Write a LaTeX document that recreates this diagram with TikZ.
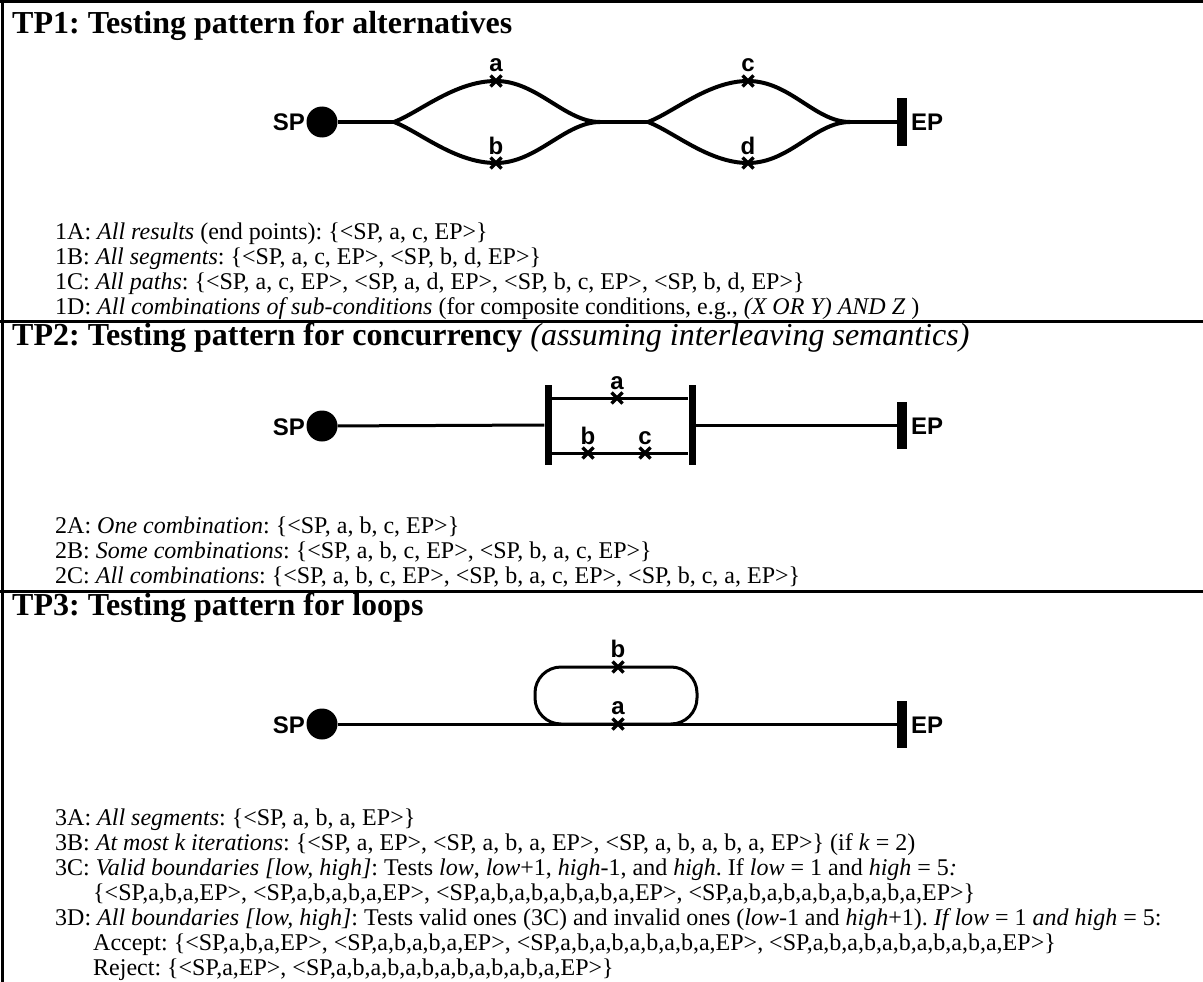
\documentclass[tikz,border=0pt]{standalone}
\usepackage{fontspec}
\setmainfont{Liberation Serif}
\newfontfamily\lblfont{Liberation Sans}
\frenchspacing
\newcommand\drawcross[1]{\draw[crossmk] ([shift={(-5.5,-5.5)}]#1) -- ([shift={(5.5,5.5)}]#1) ([shift={(-5.5,5.5)}]#1) -- ([shift={(5.5,-5.5)}]#1);}
\begin{document}
\begin{tikzpicture}[x=1pt,y=-1pt,
  txt/.style={anchor=base west, inner sep=0pt, font=\frenchspacing\fontsize{24}{26}\selectfont},
  ttl/.style={anchor=base west, inner sep=0pt, font=\frenchspacing\fontsize{32}{34}\selectfont\bfseries},
  lbl/.style={inner sep=0pt, font=\lblfont\bfseries\fontsize{24}{26}\selectfont},
  spdot/.style={circle, fill=black, minimum size=31pt, inner sep=0pt},
  epbar/.style={rectangle, fill=black, minimum width=10pt, minimum height=47pt, inner sep=0pt},
  cbar/.style={rectangle, fill=black, minimum width=7pt, minimum height=80pt, inner sep=0pt},
  frame/.style={line width=3pt},
  wire/.style={line width=3pt},
  bwire/.style={line width=4pt},
  crossmk/.style={line width=3.5pt}
]
\useasboundingbox (0,0) rectangle (1203,982);
% frame
\draw[frame] (2,0) -- (2,982);
\draw[frame] (0,1.5) -- (1203,1.5);
\draw[frame] (0,321) -- (1203,321);
\draw[frame] (0,591) -- (1203,591);

% ---------------- TP1
\node[ttl] (t1) at (12,34) {TP1: Testing pattern for alternatives};
\node[spdot] (sp1) at (322,122) {};
\node[lbl, anchor=base east] (sp1l) at (305,131) {SP};
\node[epbar] (ep1) at (902,122) {};
\node[lbl, anchor=base west] (ep1l) at (911,131) {EP};
\coordinate (j1) at (394,122);
\coordinate (a1) at (496,81);
\coordinate (b1) at (496,163);
\coordinate (j2) at (600,122);
\coordinate (j3) at (648,122);
\coordinate (c1) at (748,81);
\coordinate (d1) at (748,163);
\coordinate (j4) at (850,122);
\draw[bwire] (sp1) -- (j1);
\draw[bwire] (j1) .. controls (420,112) and (455,81) .. (a1) .. controls (537,81) and (565,122) .. (j2);
\draw[bwire] (j1) .. controls (420,132) and (455,163) .. (b1) .. controls (537,163) and (565,122) .. (j2);
\draw[bwire] (j2) -- (j3);
\draw[bwire] (j3) .. controls (674,112) and (709,81) .. (c1) .. controls (790,81) and (815,122) .. (j4);
\draw[bwire] (j3) .. controls (674,132) and (709,163) .. (d1) .. controls (790,163) and (815,122) .. (j4);
\draw[bwire] (j4) -- (ep1);
\drawcross{a1}\drawcross{b1}\drawcross{c1}\drawcross{d1}
\node[lbl, anchor=base] (la1) at (496,72) {a};
\node[lbl, anchor=base] (lb1) at (496,154) {b};
\node[lbl, anchor=base] (lc1) at (748,72) {c};
\node[lbl, anchor=base] (ld1) at (748,154) {d};

\node[txt] (l1a) at (55,239) {1A: \textit{All results} (end points): \{<SP, a, c, EP>\}};
\node[txt] (l1b) at (55,264) {1B: \textit{All segments}: \{<SP, a, c, EP>, <SP, b, d, EP>\}};
\node[txt] (l1c) at (55,289) {1C: \textit{All paths}: \{<SP, a, c, EP>, <SP, a, d, EP>, <SP, b, c, EP>, <SP, b, d, EP>\}};
\node[txt] (l1d) at (55,314) {1D: \textit{All combinations of sub-conditions} (for composite conditions, e.g., \textit{(X OR Y) AND Z\/} )};

% ---------------- TP2
\node[ttl] (t2) at (12,345) {TP2: Testing pattern for concurrency \mdseries\itshape(assuming interleaving semantics)};
\node[spdot] (sp2) at (322,426) {};
\node[lbl, anchor=base east] (sp2l) at (305,435) {SP};
\node[cbar] (lbar) at (548,425) {};
\node[cbar] (rbar) at (692,425) {};
\node[epbar] (ep2) at (902,425) {};
\node[lbl, anchor=base west] (ep2l) at (911,434) {EP};
\coordinate (a2) at (617,398);
\coordinate (b2) at (588,453);
\coordinate (c2) at (645,453);
\draw[wire] (sp2) -- (lbar);
\draw[wire] (rbar) -- (ep2);
\draw[wire] (lbar.east |- a2) -- (rbar.west |- a2);
\draw[wire] (lbar.east |- b2) -- (rbar.west |- b2);
\drawcross{a2}\drawcross{b2}\drawcross{c2}
\node[lbl, anchor=base] (la2) at (617,389) {a};
\node[lbl, anchor=base] (lb2) at (588,444) {b};
\node[lbl, anchor=base] (lc2) at (645,444) {c};

\node[txt] (l2a) at (55,533) {2A: \textit{One combination}: \{<SP, a, b, c, EP>\}};
\node[txt] (l2b) at (55,558) {2B: \textit{Some combinations}: \{<SP, a, b, c, EP>, <SP, b, a, c, EP>\}};
\node[txt] (l2c) at (55,583) {2C: \textit{All combinations}: \{<SP, a, b, c, EP>, <SP, b, a, c, EP>, <SP, b, c, a, EP>\}};

% ---------------- TP3
\node[ttl] (t3) at (12,615) {TP3: Testing pattern for loops};
\node[spdot] (sp3) at (322,724) {};
\node[lbl, anchor=base east] (sp3l) at (305,733) {SP};
\node[epbar] (ep3) at (902,724) {};
\node[lbl, anchor=base west] (ep3l) at (911,733) {EP};
\node[draw, wire, rounded corners=26pt, minimum width=162pt, minimum height=57pt, inner sep=0pt] (loop) at (616,695.5) {};
\draw[wire] (sp3) -- (ep3);
\coordinate (a3) at (618,724);
\coordinate (b3) at (618,667);
\drawcross{a3}\drawcross{b3}
\node[lbl, anchor=base] (la3) at (618,714) {a};
\node[lbl, anchor=base] (lb3) at (618,657) {b};

\node[txt] (l3a) at (55,825) {3A: \textit{All segments}: \{<SP, a, b, a, EP>\}};
\node[txt] (l3b) at (55,850) {3B: \textit{At most k iterations}: \{<SP, a, EP>, <SP, a, b, a, EP>, <SP, a, b, a, b, a, EP>\} (if \textit{k} = 2)};
\node[txt] (l3c) at (55,875) {3C: \textit{Valid boundaries [low, high]}: Tests \textit{low}, \textit{low}+1, \textit{high}-1, and \textit{high}. If \textit{low} = 1 and \textit{high} = 5\textit{:}};
\node[txt] (l3c2) at (93,900) {\{<SP,a,b,a,EP>, <SP,a,b,a,b,a,EP>, <SP,a,b,a,b,a,b,a,b,a,EP>, <SP,a,b,a,b,a,b,a,b,a,b,a,EP>\}};
\node[txt] (l3d) at (55,925) {3D: \textit{All boundaries [low, high]}: Tests valid ones (3C) and invalid ones (\textit{low}-1 and \textit{high}+1). \textit{If low} = 1 \textit{and high} = 5:};
\node[txt] (l3d2) at (93,950) {Accept: \{<SP,a,b,a,EP>, <SP,a,b,a,b,a,EP>, <SP,a,b,a,b,a,b,a,b,a,EP>, <SP,a,b,a,b,a,b,a,b,a,b,a,EP>\}};
\node[txt] (l3d3) at (93,975) {Reject: \{<SP,a,EP>, <SP,a,b,a,b,a,b,a,b,a,b,a,b,a,EP>\}};
\end{tikzpicture}
\end{document}
